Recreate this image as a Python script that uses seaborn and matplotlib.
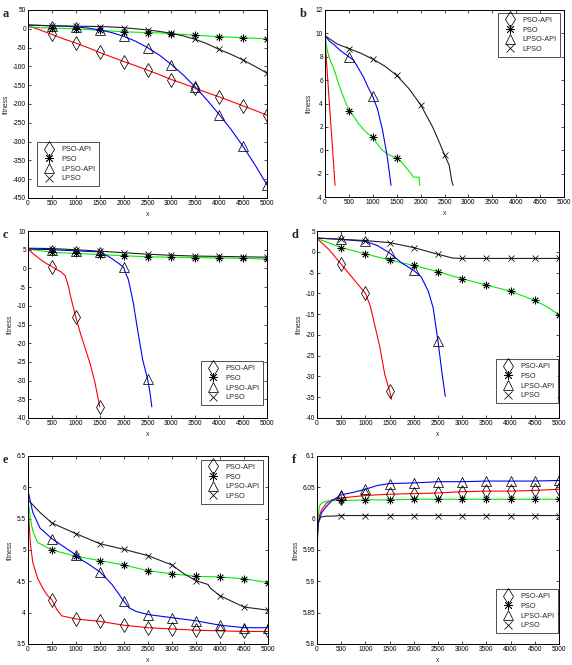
import seaborn as sns
import matplotlib.pyplot as plt
import numpy as np
import pandas as pd
from matplotlib.lines import Line2D
from matplotlib.ticker import FuncFormatter

# names of the four algorithms
labels = ['PSO-API', 'PSO', 'LPSO-API', 'LPSO']

# panel a
a_x = [0, 250, 500, 750, 1000, 1250, 1500, 1750, 2000, 2250, 2500, 2750, 3000,
       3250, 3500, 3750, 4000, 4250, 4500, 4750, 5000]
a_psoapi = [8, -3, -15, -27, -38, -50, -63, -75, -87, -98, -110, -122, -135,
            -146, -158, -170, -181, -193, -205, -217, -230]
a_pso = [5, 3, 2, 1, 0, -2, -4, -6, -8, -9, -10, -11, -13, -15, -17, -19, -21,
         -22, -24, -25, -27]
a_lpsoapi = [10, 9, 8, 7, 5, 2, -3, -10, -20, -33, -50, -70, -95, -123, -155,
             -190, -228, -268, -313, -362, -415]
a_lpso = [10, 9, 8, 7.5, 7, 6.5, 6, 5, 3, 0, -3, -7, -12, -19, -28, -40, -55,
          -68, -83, -100, -118]

# panel b
b_psoapi_x = [0, 50, 100, 150, 210]
b_psoapi = [9.5, 6.5, 3.5, 0.6, -3.0]
b_pso_x = [0, 50, 100, 200, 300, 400, 500, 600, 700, 800, 900, 1000, 1100, 1200,
           1300, 1400, 1500, 1600, 1700, 1800, 1850, 1970, 1980]
b_pso = [9.8, 8.5, 7.8, 6.8, 5.5, 4.4, 3.4, 2.9, 2.3, 1.8, 1.4, 1.1, 0.5, 0.0,
         -0.3, -0.5, -0.7, -1.0, -1.5, -2.0, -2.3, -2.3, -3.0]
b_lpsoapi_x = [0, 100, 200, 300, 400, 500, 600, 700, 800, 900, 1000, 1100, 1200,
               1300, 1350, 1380]
b_lpsoapi = [9.8, 9.3, 9.0, 8.6, 8.3, 8.0, 7.7, 7.0, 6.3, 5.4, 4.6, 3.5, 1.8,
             -0.5, -2.0, -3.0]
b_lpso_x = [0, 250, 500, 750, 1000, 1250, 1500, 1750, 2000, 2250, 2400, 2500,
            2600, 2650, 2680]
b_lpso = [9.8, 9.1, 8.7, 8.3, 7.8, 7.2, 6.4, 5.3, 3.9, 2.0, 0.6, -0.4, -1.3,
          -2.6, -3.0]

# panel c
c_psoapi_x = [0, 100, 200, 300, 400, 500, 600, 700, 780, 850, 900, 1000, 1100,
              1200, 1300, 1400, 1500]
c_psoapi = [5.2, 4.0, 3.0, 2.0, 1.2, 0.5, -0.3, -1.0, -2.0, -5.0, -8.0, -13.0,
            -17.5, -21.5, -25.5, -30.5, -37.0]
c_x = [0, 500, 1000, 1500, 2000, 2500, 3000, 3500, 4000, 4500, 5000]
c_pso = [5.2, 4.3, 4.0, 3.7, 3.4, 3.1, 3.0, 2.9, 2.8, 2.7, 2.5]
c_lpso = [5.4, 5.3, 5.0, 4.6, 4.2, 3.8, 3.5, 3.3, 3.2, 3.1, 3.0]
c_lpsoapi_x = [0, 500, 1000, 1500, 1700, 1900, 2000, 2050, 2100, 2200, 2300,
               2400, 2500, 2550, 2590]
c_lpsoapi = [5.2, 5.0, 4.7, 4.4, 3.1, 1.3, 0.3, -1.5, -3.0, -9.0, -17.0, -24.5,
             -29.5, -33.0, -37.0]

# panel d
d_psoapi_x = [0, 250, 500, 750, 1000, 1100, 1200, 1300, 1400, 1500, 1540]
d_psoapi = [3.2, 0.5, -3.0, -6.5, -10.0, -13.0, -18.0, -23.0, -29.5, -33.5, -35.5]
d_pso_x = [0, 500, 1000, 1500, 2000, 2500, 3000, 3500, 4000, 4500, 4750, 5000]
d_pso = [3.2, 1.0, -0.5, -2.0, -3.3, -4.8, -6.5, -8.0, -9.5, -11.7, -13.2, -15.2]
d_lpso_x = [0, 500, 1000, 1500, 2000, 2500, 2800, 3000, 3500, 4000, 4500, 5000]
d_lpso = [3.3, 3.0, 2.7, 2.2, 1.0, -0.6, -1.5, -1.6, -1.6, -1.6, -1.6, -1.6]
d_lpsoapi_x = [0, 500, 1000, 1250, 1500, 1750, 2000, 2150, 2300, 2400, 2500,
               2575, 2650]
d_lpsoapi = [3.3, 3.0, 2.5, 1.5, -0.3, -2.7, -4.5, -6.0, -9.5, -13.5, -21.5,
             -28.5, -34.8]

# panel e
e_psoapi_x = [0, 50, 100, 200, 300, 400, 500, 600, 700, 1000, 1500, 2000, 2500,
              3000, 3500, 4000, 4500, 5000]
e_psoapi = [5.7, 5.1, 4.8, 4.55, 4.4, 4.28, 4.2, 4.05, 3.95, 3.9, 3.86, 3.8,
            3.76, 3.74, 3.72, 3.71, 3.70, 3.70]
e_pso_x = [0, 50, 100, 200, 300, 500, 1000, 1500, 2000, 2500, 3000, 3500, 4000,
           4500, 5000]
e_pso = [5.8, 5.5, 5.3, 5.12, 5.08, 5.0, 4.9, 4.83, 4.76, 4.67, 4.62, 4.58,
         4.57, 4.54, 4.48]
e_lpso_x = [0, 250, 500, 1000, 1500, 2000, 2500, 3000, 3250, 3500, 3750, 3800,
            4000, 4500, 5000]
e_lpso = [5.8, 5.6, 5.43, 5.26, 5.1, 5.01, 4.91, 4.76, 4.62, 4.51, 4.45, 4.39,
          4.27, 4.09, 4.04]
e_lpsoapi_x = [0, 100, 250, 500, 750, 1000, 1100, 1250, 1500, 1750, 2000, 2100,
               2250, 2500, 3000, 3500, 4000, 4500, 5000]
e_lpsoapi = [5.95, 5.6, 5.35, 5.18, 5.05, 4.92, 4.85, 4.78, 4.65, 4.45, 4.18,
             4.08, 4.02, 3.97, 3.92, 3.87, 3.80, 3.76, 3.76]

# panel f
f_x = [0, 20, 50, 100, 200, 300, 500, 1000, 1500, 2000, 2500, 3000, 3500, 4000,
       4500, 5000]
f_psoapi = [5.96, 5.99, 6.005, 6.015, 6.025, 6.03, 6.033, 6.037, 6.039, 6.040,
            6.041, 6.043, 6.044, 6.044, 6.045, 6.047]
f_pso = [5.92, 6.0, 6.02, 6.025, 6.028, 6.029, 6.029, 6.03, 6.03, 6.031, 6.031,
         6.031, 6.031, 6.031, 6.031, 6.031]
f_lpsoapi_x = [0, 20, 50, 100, 200, 300, 500, 750, 1000, 1250, 1500, 2000, 2500,
               3000, 3500, 4000, 4500, 5000]
f_lpsoapi = [5.95, 5.99, 6.0, 6.01, 6.02, 6.028, 6.038, 6.042, 6.047, 6.053,
             6.056, 6.057, 6.059, 6.059, 6.06, 6.06, 6.06, 6.061]
f_lpso = [5.96, 5.99, 6.0, 6.003, 6.004, 6.004, 6.005, 6.005, 6.005, 6.005,
          6.005, 6.005, 6.005, 6.005, 6.005, 6.005]

colors = ['#ff0000', '#00ee00', '#0000ff', '#202020']
markers = ['d', (8, 2, 0), '^', 'x']
msizes = [7, 5.5, 6.5, 5]

sns.set_theme(style='ticks')
plt.rcParams['font.family'] = ['Liberation Sans', 'DejaVu Sans']
plt.rcParams['xtick.direction'] = 'in'
plt.rcParams['ytick.direction'] = 'in'

W, H = 572, 665
fig = plt.figure(figsize=(W / 100, H / 100), dpi=100)


def box(l, r, t, b):
    return [l / W, 1 - b / H, (r - l) / W, (b - t) / H]


panels = [
    ('a', box(28, 267, 10, 198),
     [(a_x, a_psoapi), (a_x, a_pso), (a_x, a_lpsoapi), (a_x, a_lpso)],
     (-450, 50, 50), 'lower left', (9 / 239, 12 / 188)),
    ('b', box(325, 564, 10, 197),
     [(b_psoapi_x, b_psoapi), (b_pso_x, b_pso), (b_lpsoapi_x, b_lpsoapi), (b_lpso_x, b_lpso)],
     (-4, 12, 2), 'upper right', (1 - 4 / 239, 1 - 3 / 187)),
    ('c', box(28, 267, 231, 418),
     [(c_psoapi_x, c_psoapi), (c_x, c_pso), (c_lpsoapi_x, c_lpsoapi), (c_x, c_lpso)],
     (-40, 10, 5), 'lower right', (1 - 4 / 239, 13 / 187)),
    ('d', box(317, 559, 231, 418),
     [(d_psoapi_x, d_psoapi), (d_pso_x, d_pso), (d_lpsoapi_x, d_lpsoapi), (d_lpso_x, d_lpso)],
     (-40, 5, 5), 'lower right', (1 - 1 / 242, 15 / 187)),
    ('e', box(28, 268, 456, 644),
     [(e_psoapi_x, e_psoapi), (e_pso_x, e_pso), (e_lpsoapi_x, e_lpsoapi), (e_lpso_x, e_lpso)],
     (3.5, 6.5, 0.5), 'upper right', (1 - 5 / 240, 1 - 4 / 188)),
    ('f', box(317, 559, 456, 644),
     [(f_x, f_psoapi), (f_x, f_pso), (f_lpsoapi_x, f_lpsoapi), (f_x, f_lpso)],
     (5.8, 6.1, 0.05), 'lower right', (1 - 1 / 242, 11 / 188)),
]

for letter, pos, series, (ylo, yhi, ystep), loc, anchor in panels:
    ax = fig.add_axes(pos)
    for i, (xs, ys) in enumerate(series):
        df = pd.DataFrame({'x': xs, 'y': ys})
        sns.lineplot(data=df, x='x', y='y', ax=ax, color=colors[i], lw=0.8,
                     sort=False, estimator=None)
        m = df[(df['x'] > 0) & (df['x'] % 500 == 0)]
        ax.plot(m['x'], m['y'], ls='none', marker=markers[i], ms=msizes[i],
                mfc='none', mec='black', mew=0.55)
    ax.set_xlim(0, 5000)
    ax.set_ylim(ylo, yhi)
    ax.set_xticks(np.arange(0, 5001, 500))
    ax.set_yticks(np.arange(ylo, yhi + ystep / 2, ystep))
    ax.yaxis.set_major_formatter(FuncFormatter(lambda v, p: '{:g}'.format(round(v, 3))))
    ax.tick_params(labelsize=4.7, length=2, width=0.5, pad=1.5,
                   top=True, right=True, colors='black')
    for s in ax.spines.values():
        s.set_linewidth(0.7)
        s.set_color('black')
    ax.set_xlabel('x', fontsize=4.8, labelpad=3)
    ax.set_ylabel('fitness', fontsize=4.8, labelpad=2)
    handles = [Line2D([], [], ls='none', marker=markers[i], ms=msizes[i] + 1,
                      mfc='none', mec='black', mew=0.55) for i in range(4)]
    leg = ax.legend(handles, labels, loc=loc, bbox_to_anchor=anchor,
                    fontsize=5.3, frameon=True, fancybox=False, borderaxespad=0,
                    handlelength=2.2, handletextpad=0.6, labelspacing=0.35,
                    borderpad=0.5, numpoints=1)
    leg.get_frame().set_edgecolor('black')
    leg.get_frame().set_linewidth(0.6)
    fig.text(pos[0] - 25 / W, pos[1] + pos[3] - 4 / H, letter, fontsize=9,
             fontweight='bold', family='Liberation Serif', va='center')

fig.savefig('out.png', dpi=100)
